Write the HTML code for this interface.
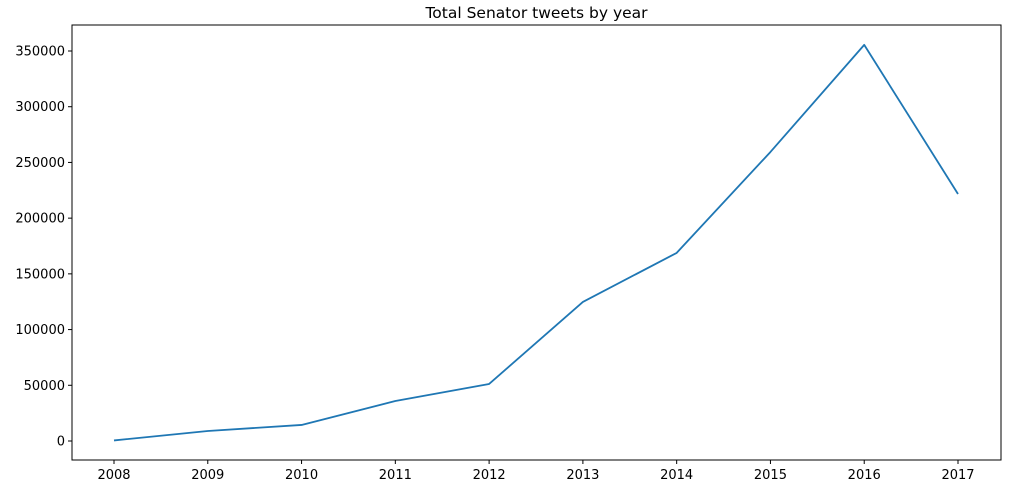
<!DOCTYPE html>
<html><head><meta charset="utf-8"><style>
body{margin:0;background:#fff;font-family:"Liberation Sans","DejaVu Sans",sans-serif;}
svg text{font-family:"DejaVu Sans","Liberation Sans",sans-serif;font-size:13px;fill:#000;}
</style></head><body>
<svg id="chart" width="1029" height="497">
<rect x="0" y="0" width="1029" height="497" fill="#fff"/>
<text x="536.5" y="18" text-anchor="middle" style="font-size:15.5px">Total Senator tweets by year</text>
<g id="axes"></g>
</svg>
<script>
const years = [2008,2009,2010,2011,2012,2013,2014,2015,2016,2017];
const tweets = [500,9000,14400,35900,51200,124800,168800,259400,355500,221700];
const yTicks = [0,50000,100000,150000,200000,250000,300000,350000];

const L=72,R=1001,T=25,B=460;
const x = v => 114 + (v-2008)*(958-114)/9;
const y = v => 441 - v*(441-51)/350000;
const ns="http://www.w3.org/2000/svg";
const g=document.getElementById('axes');
function mk(tag,attrs){const e=document.createElementNS(ns,tag);for(const k in attrs)e.setAttribute(k,attrs[k]);g.appendChild(e);return e;}

const frame=mk('rect',{x:L,y:T,width:R-L,height:B-T,fill:'none',stroke:'#000','stroke-width':1});



yTicks.forEach(t=>{
  const yy=y(t);
  const tk=mk('line',{x1:L-4,x2:L,y1:yy,y2:yy,stroke:'#000'});
  
  
  const lb=mk('text',{x:L-7,y:yy+4.5,'text-anchor':'end'});
  lb.textContent=t;
  
  
});
years.forEach(yr=>{
  const xx=x(yr);
  const tk=mk('line',{x1:xx,x2:xx,y1:B,y2:B+4,stroke:'#000'});
  
  
  const lb=mk('text',{x:xx,y:B+19,'text-anchor':'middle'});
  lb.textContent=yr;
  
  
});
const pts=years.map((yr,i)=>x(yr)+','+y(tweets[i])).join(' ');
const line=mk('polyline',{points:pts,fill:'none',stroke:'#1f77b4','stroke-width':1.8,'stroke-linejoin':'round'});


</script>
</body></html>
